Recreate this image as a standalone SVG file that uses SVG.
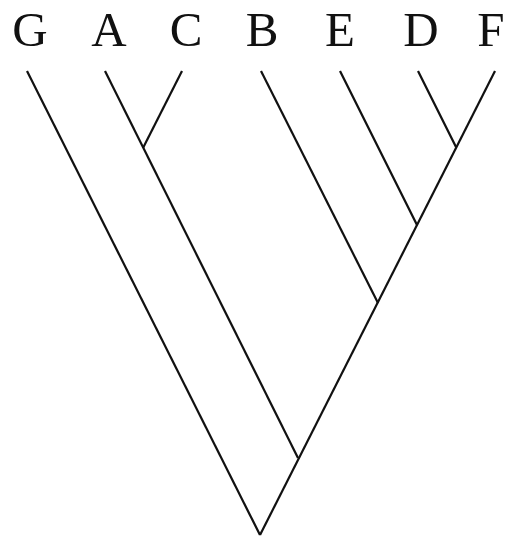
<svg xmlns="http://www.w3.org/2000/svg" width="514" height="539" viewBox="0 0 514 539">
<style>
.lbl{font-family:"Liberation Serif","DejaVu Serif",serif;font-size:49px;fill:#111;text-anchor:middle}
.br{stroke:#111;stroke-width:2.2;fill:none;stroke-linecap:butt}
</style>
<rect width="514" height="539" fill="#fff"/>
<g id="G"><text class="lbl" x="30" y="46">G</text></g>
<g id="A"><text class="lbl" x="109" y="46">A</text></g>
<g id="C"><text class="lbl" x="186" y="46">C</text></g>
<g id="B"><text class="lbl" x="262" y="46">B</text></g>
<g id="E"><text class="lbl" x="340" y="46">E</text></g>
<g id="D"><text class="lbl" x="421" y="46">D</text></g>
<g id="F"><text class="lbl" x="491" y="46">F</text></g>
<g id="connectors" class="br">
<line x1="27" y1="71" x2="260" y2="535"/>
<line x1="495" y1="71" x2="260" y2="535"/>
<line x1="105" y1="71" x2="298" y2="458"/>
<line x1="182" y1="71" x2="143" y2="148"/>
<line x1="261" y1="71" x2="378" y2="303"/>
<line x1="340" y1="71" x2="417" y2="225"/>
<line x1="418" y1="71" x2="456" y2="147"/>
</g>
</svg>
